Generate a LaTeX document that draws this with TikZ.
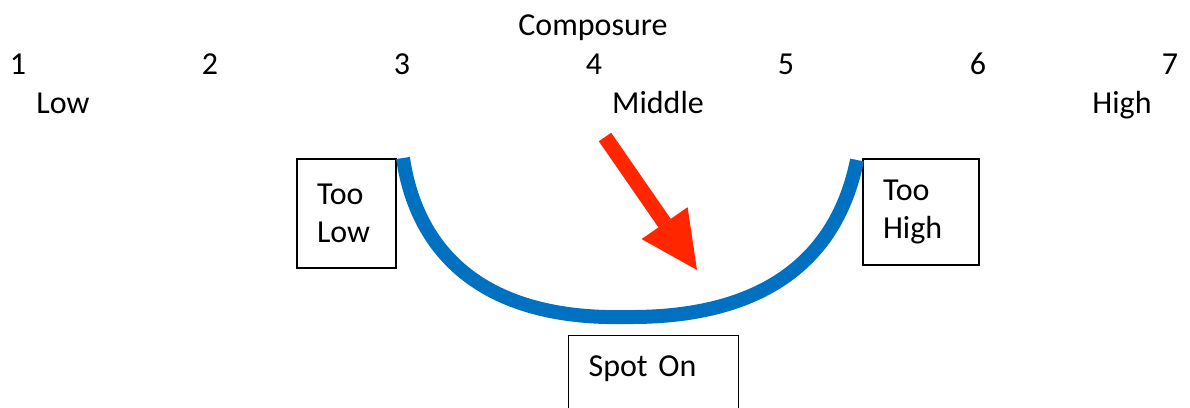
\documentclass[tikz,border=0pt]{standalone}
\usepackage{fontspec}
\setmainfont{Carlito}
\usetikzlibrary{arrows.meta}
\definecolor{cblue}{HTML}{0070C0}
\definecolor{cred}{HTML}{FF2600}
\tikzset{
  every picture/.style={x=1pt, y=-1pt, font=\fontsize{32}{38}\selectfont},
  box/.style={draw=black, line width=1.2pt, align=left, inner xsep=20pt, text width=#1},
  scalelabel/.style={anchor=base},
  bowl/.style={draw=cblue, line width=14pt},
  pointer/.style={draw=cred, line width=15pt, -{Triangle[length=57pt, width=56pt, line width=0pt]}},
}

\begin{document}
\begin{tikzpicture}
  \useasboundingbox (0,0) rectangle (1190,407);
  \clip (0,0) rectangle (1190,407);
  % scale along the top
  \node[scalelabel] (title) at (593,35) {Composure};
  \foreach \n in {1,...,7}
    \node[scalelabel] (num\n) at ({18+192*(\n-1)},74) {\n};
  \node[scalelabel] (low) at (63,113) {Low};
  \node[scalelabel] (middle) at (658,113) {Middle};
  \node[scalelabel] (high) at (1122,113) {High};
  % boxes
  \node[box=59pt, minimum height=109pt] (toolow) at (346.5,213.5) {Too\\Low};
  \node[box=76pt, minimum height=106pt] (toohigh) at (921,212) {Too\\High};
  \node[box=130pt, anchor=north west, inner ysep=20pt, text height=21pt, text depth=60pt] (spoton) at (568,335) {Spot On};
  % the bowl
  \coordinate (lowtip) at (403,158);
  \coordinate (bottom) at (628,317);
  \coordinate (hightip) at (857,160);
  \draw[bowl] (lowtip) .. controls (415,240) and (470,321) .. (bottom);
  \draw[bowl] (bottom) .. controls (780,318) and (840,245) .. (hightip);
  % pointer
  \coordinate (ptail) at (605,137);
  \coordinate (phead) at (697,270);
  \draw[pointer] (ptail) -- (phead);
\end{tikzpicture}
\end{document}
